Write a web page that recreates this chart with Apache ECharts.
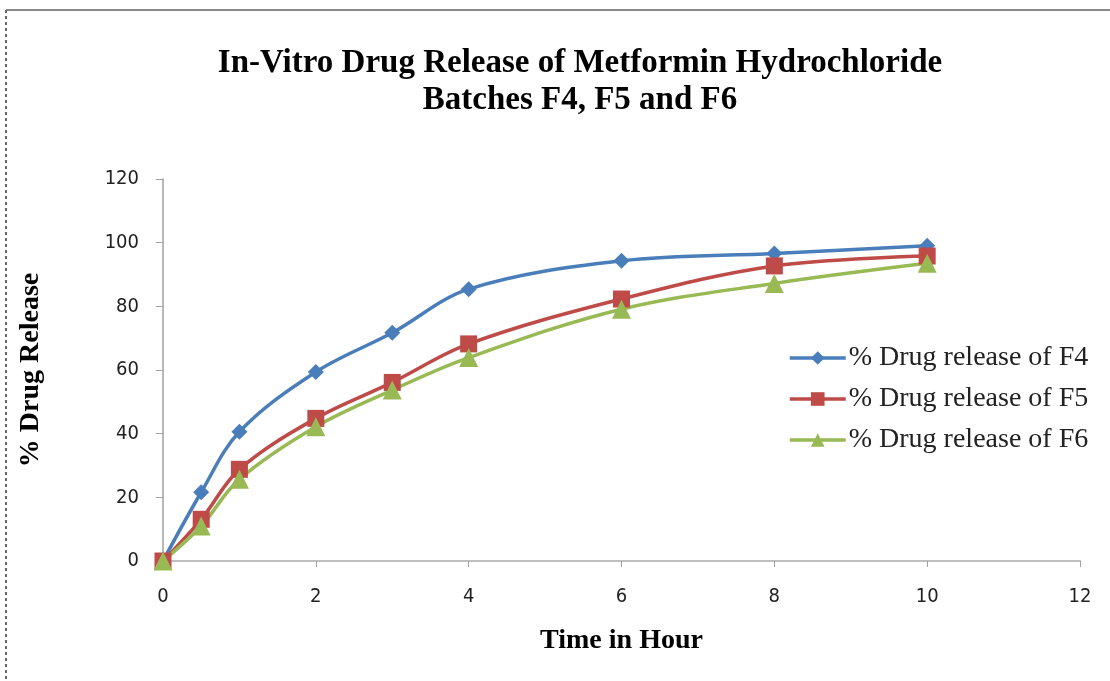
<!DOCTYPE html>
<html><head><meta charset="utf-8">
<script src="https://cdn.jsdelivr.net/npm/echarts@6/dist/echarts.min.js"></script>
<style>html,body{margin:0;padding:0;background:#fff}#c{width:1110px;height:681px}</style>
</head><body><div id="c"></div>
<script>
const times = [0, 0.5, 1, 2, 3, 4, 6, 8, 10];
const f4 = [0, 21.6, 40.6, 59.4, 71.7, 85.4, 94.3, 96.6, 99.0];
const f5 = [0, 13.1, 28.8, 44.8, 56.1, 68.2, 82.3, 92.7, 95.8];
const f6 = [0, 11.0, 25.7, 42.2, 53.7, 63.9, 79.1, 87.2, 93.5];
const seriesNames = ['% Drug release of F4', '% Drug release of F5', '% Drug release of F6'];
const colors = ['#4a7ebb', '#be4b48', '#98b954'];
const symbols = ['diamond', 'rect', 'triangle'];
const symbolSizes = [16, 17, 19];

const tickFont = "'Liberation Sans Narrow','DejaVu Sans Condensed','Liberation Sans',sans-serif";
const chart = echarts.init(document.getElementById('c'));
const mk = (vals, i) => ({
  name: seriesNames[i], type: 'line', smooth: 0.35,
  data: times.map((t, k) => [t, vals[k]]),
  symbol: symbols[i], symbolSize: symbolSizes[i],
  lineStyle: {color: colors[i], width: 3.5},
  itemStyle: {color: colors[i]}
});
chart.setOption({
  animation: false,
  title: {
    text: 'In-Vitro Drug Release of Metformin Hydrochloride\nBatches F4, F5 and F6',
    left: 575, textAlign: 'center', top: 40,
    textStyle: {fontFamily: 'Liberation Serif', fontWeight: 'bold', fontSize: 33, lineHeight: 37, color: '#000'}
  },
  legend: {
    orient: 'vertical', left: 783, top: 339, itemGap: 13, itemWidth: 56, itemHeight: 17,
    textStyle: {fontFamily: 'Liberation Serif', fontSize: 28, color: '#222', padding: [0, 0, 0, -2]},
    lineStyle: {width: 3.5},
    data: seriesNames
  },
  grid: {left: 163, right: 30, top: 179, bottom: 120},
  xAxis: {
    type: 'value', min: 0, max: 12, interval: 2,
    name: 'Time in Hour', nameLocation: 'middle', nameGap: 66,
    nameTextStyle: {fontFamily: 'Liberation Serif', fontWeight: 'bold', fontSize: 28, color: '#000'},
    axisLine: {lineStyle: {color: '#bfbfbf', width: 2}},
    axisTick: {show: true, length: 6, lineStyle: {color: '#a0a0a0'}},
    axisLabel: {fontFamily: tickFont, fontSize: 20, color: '#222', margin: 26},
    splitLine: {show: false}
  },
  yAxis: {
    type: 'value', min: 0, max: 120, interval: 20,
    name: '% Drug Release', nameLocation: 'middle', nameGap: 118, nameRotate: 90,
    nameTextStyle: {fontFamily: 'Liberation Serif', fontWeight: 'bold', fontSize: 28, color: '#000'},
    axisLine: {show: true, lineStyle: {color: '#a0a0a0', width: 1.5}},
    axisTick: {show: true, length: 7, lineStyle: {color: '#a0a0a0'}},
    axisLabel: {fontFamily: tickFont, fontSize: 20, color: '#222', margin: 24},
    splitLine: {show: false}
  },
  graphic: [
    {type: 'line', shape: {x1: 6, y1: 10, x2: 1110, y2: 10}, style: {stroke: '#888', lineWidth: 2}},
    {type: 'line', shape: {x1: 6, y1: 10, x2: 6, y2: 681}, style: {stroke: '#666', lineWidth: 2, lineDash: [3, 3]}}
  ],
  series: [mk(f4, 0), mk(f5, 1), mk(f6, 2)]
});
</script></body></html>
